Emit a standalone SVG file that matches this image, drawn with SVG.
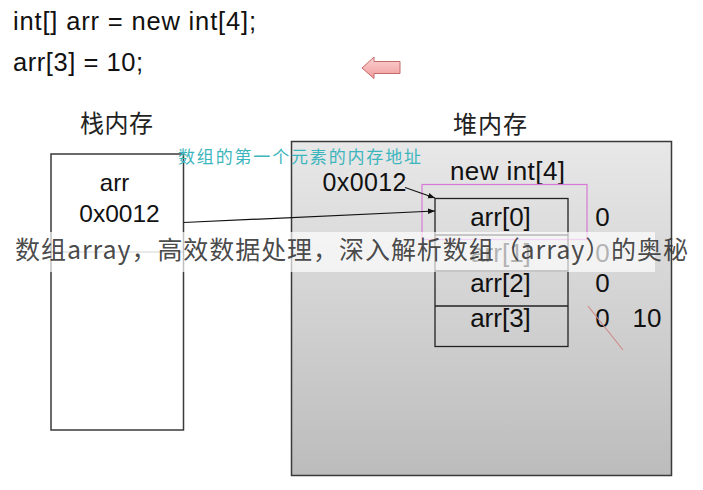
<svg xmlns="http://www.w3.org/2000/svg" width="703" height="490" viewBox="0 0 703 490">
<defs>
<style>
.lat{font-family:"Liberation Sans",Arial,sans-serif;fill:#111}
.cjk{font-family:"Noto Sans CJK SC","Noto Sans",sans-serif;fill:#222}
.box{stroke:#3a3a3a;stroke-width:1.5}
.conn{stroke:#111;stroke-width:1.2;fill:none}
</style>
<linearGradient id="heapg" x1="0" y1="0" x2="0" y2="1">
<stop offset="0" stop-color="#e8e8e8"/>
<stop offset="1" stop-color="#bcbcbc"/>
</linearGradient>
<linearGradient id="pinkg" x1="0" y1="0" x2="0" y2="1">
<stop offset="0" stop-color="#fbd3d3"/>
<stop offset="1" stop-color="#f19b9b"/>
</linearGradient>
<marker id="ah" viewBox="0 0 10 10" refX="10" refY="5" markerWidth="7" markerHeight="7" orient="auto" markerUnits="userSpaceOnUse">
<path d="M0,1 L10,5 L0,9 Z" fill="#111"/>
</marker>
</defs>
<rect width="703" height="490" fill="#ffffff"/>

<g id="code">
<text class="lat" x="13" y="30" font-size="25.5" textLength="243">int[] arr = new int[4];</text>
<text class="lat" x="13" y="71" font-size="25.5" textLength="130">arr[3] = 10;</text>
</g>

<g id="pink-arrow">
<polygon points="362,68 374,57 374,61.5 400,61.5 400,73.5 374,73.5 374,78.5" fill="url(#pinkg)" stroke="#c46a6a" stroke-width="1"/>
</g>

<g id="stack-title"><text class="cjk" x="80" y="132" font-size="24" textLength="73">栈内存</text></g>
<g id="heap-title"><text class="cjk" x="453" y="133" font-size="24" textLength="74">堆内存</text></g>

<g id="stack">
<rect x="51" y="154" width="132.5" height="276" fill="#ffffff" class="box"/>
<text class="lat" x="114.5" y="190.5" font-size="24" text-anchor="middle">arr</text>
<text class="lat" x="119.5" y="221.5" font-size="24.5" text-anchor="middle">0x0012</text>
<line x1="51" y1="252" x2="183" y2="252" stroke="#777" stroke-width="1"/>
</g>

<g id="heap">
<rect x="291.5" y="141.5" width="380" height="334" fill="url(#heapg)" class="box"/>
<text class="lat" x="507.5" y="180" font-size="26" text-anchor="middle" textLength="115">new int[4]</text>
<text class="lat" x="364.5" y="190.5" font-size="25" text-anchor="middle" textLength="84">0x0012</text>
<rect x="422" y="184.5" width="165" height="55" fill="none" stroke="#d77ad7" stroke-width="1.2"/>
</g>

<g id="array">
<rect x="435" y="198.5" width="133" height="148" fill="none" stroke="#222" stroke-width="1.3"/>
<line x1="435" y1="235" x2="568" y2="235" stroke="#222" stroke-width="1.3"/>
<line x1="435" y1="271" x2="568" y2="271" stroke="#222" stroke-width="1.3"/>
<line x1="435" y1="306" x2="568" y2="306" stroke="#222" stroke-width="1.3"/>
<text class="lat" x="500.5" y="226" font-size="26" text-anchor="middle">arr[0]</text>
<text class="lat" x="500.5" y="262" font-size="26" text-anchor="middle">arr[1]</text>
<text class="lat" x="500.5" y="291.5" font-size="26" text-anchor="middle">arr[2]</text>
<text class="lat" x="500.5" y="327" font-size="26" text-anchor="middle">arr[3]</text>
<text class="lat" x="602.5" y="226" font-size="26" text-anchor="middle">0</text>
<text class="lat" x="602.5" y="262" font-size="26" text-anchor="middle">0</text>
<text class="lat" x="602.5" y="291.5" font-size="26" text-anchor="middle">0</text>
<text class="lat" x="602.5" y="327" font-size="26" text-anchor="middle">0</text>
<text class="lat" x="647" y="327" font-size="26" text-anchor="middle">10</text>
<line x1="588" y1="306" x2="623" y2="350" stroke="#d08a8a" stroke-width="1.2"/>
</g>

<g id="note">
<text x="178" y="163" font-size="17" textLength="243" style="font-family:'Noto Sans CJK SC','Noto Sans',sans-serif;fill:#3db5bd">数组的第一个元素的内存地址</text>
</g>

<g id="connectors">
<line class="conn" x1="183.5" y1="222.5" x2="435" y2="211" marker-end="url(#ah)"/>
<line class="conn" x1="405" y1="187.5" x2="435" y2="198" marker-end="url(#ah)"/>
</g>

<g id="watermark">
<rect x="0" y="232" width="655" height="40" fill="#ffffff" fill-opacity="0.68"/>
<text x="15" y="259" font-size="25" textLength="673" style="font-family:'Noto Sans CJK SC','Noto Sans',sans-serif;fill:#333;fill-opacity:0.9">数组array，高效数据处理，深入解析数组（array）的奥秘</text>
</g>
</svg>
